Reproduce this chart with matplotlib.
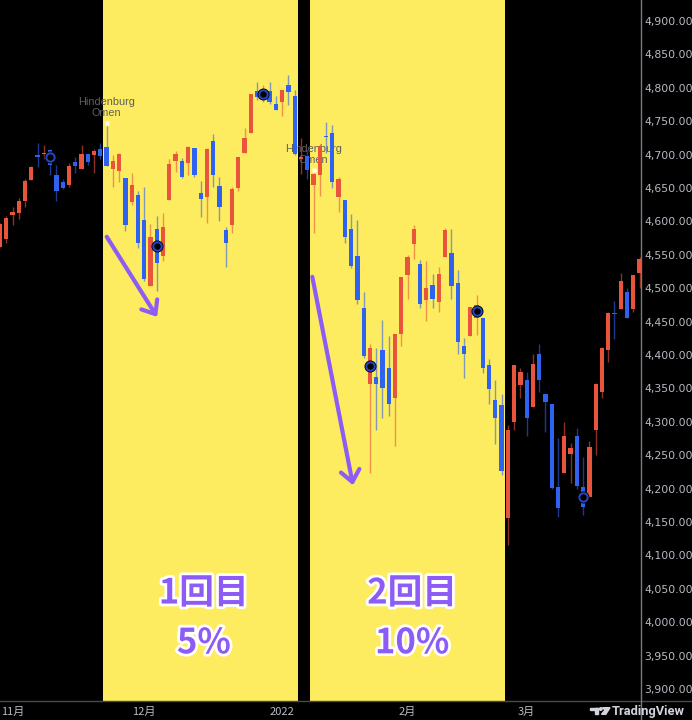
import numpy as np
import pandas as pd
import matplotlib
matplotlib.use("Agg")
import matplotlib.pyplot as plt
import matplotlib.patheffects as pe
from matplotlib.patches import Rectangle, Circle, Polygon
from matplotlib.lines import Line2D
from matplotlib.transforms import offset_copy

plt.rcParams['font.family'] = ['Noto Sans CJK JP', 'DejaVu Sans']

# S&P500 daily candles, 2021-10-28 .. 2022-03-25
holidays = ["2021-11-25", "2021-12-24", "2022-01-17", "2022-02-21"]
dates = pd.bdate_range("2021-10-28", "2022-03-25", freq="C", holidays=holidays)

opens = [4562, 4573,
         4610, 4613, 4630, 4662, 4699, 4701, 4707, 4670, 4659, 4655, 4689, 4679, 4701, 4700, 4708,
         4712, 4679, 4675, 4665, 4629, 4640,
         4602, 4504, 4589, 4548, 4632, 4690, 4691, 4687, 4710, 4642, 4637, 4720, 4653, 4587, 4594,
         4650, 4703, 4733, 4795, 4788, 4795, 4775,
         4778, 4804, 4787, 4693, 4698, 4655, 4669, 4728, 4733, 4637, 4632, 4589, 4548, 4471, 4357,
         4367, 4408, 4381, 4336, 4432,
         4519, 4566, 4536, 4482, 4505, 4480, 4547, 4553, 4507, 4413, 4429, 4456, 4456, 4385, 4333,
         4325, 4156, 4299, 4355,
         4363, 4322, 4401, 4342, 4327, 4202, 4223, 4252, 4279, 4202, 4188, 4288, 4345, 4407, 4462,
         4469, 4494, 4469, 4523]
highs = [4597, 4608,
         4621, 4635, 4663, 4683, 4718, 4714, 4708, 4684, 4664, 4688, 4697, 4714, 4701, 4708, 4717,
         4743, 4699, 4702, 4665, 4672, 4646,
         4652, 4596, 4608, 4612, 4694, 4705, 4695, 4713, 4710, 4660, 4710, 4731, 4666, 4592, 4651,
         4697, 4740, 4791, 4808, 4804, 4808, 4787,
         4797, 4819, 4797, 4725, 4707, 4673, 4714, 4749, 4745, 4666, 4632, 4611, 4602, 4495, 4417,
         4411, 4453, 4428, 4432, 4516,
         4550, 4595, 4542, 4540, 4521, 4531, 4590, 4588, 4527, 4426, 4472, 4490, 4456, 4394, 4362,
         4341, 4295, 4385, 4380,
         4375, 4401, 4416, 4342, 4327, 4276, 4299, 4268, 4291, 4247, 4271, 4358, 4412, 4465, 4481,
         4522, 4501, 4520, 4546]
lows = [4562, 4567,
        4595, 4604, 4621, 4662, 4681, 4694, 4670, 4630, 4648, 4651, 4672, 4679, 4684, 4672, 4694,
        4683, 4652, 4659, 4586, 4625, 4560,
        4510, 4504, 4496, 4540, 4632, 4674, 4665, 4670, 4667, 4606, 4598, 4651, 4600, 4532, 4583,
        4645, 4703, 4733, 4781, 4778, 4775, 4766,
        4758, 4774, 4700, 4671, 4663, 4582, 4638, 4703, 4650, 4614, 4568, 4530, 4477, 4395, 4223,
        4287, 4305, 4309, 4264, 4414,
        4484, 4544, 4470, 4451, 4471, 4464, 4547, 4484, 4401, 4365, 4429, 4430, 4373, 4327, 4267,
        4221, 4115, 4287, 4335,
        4279, 4322, 4345, 4284, 4199, 4157, 4223, 4209, 4200, 4161, 4187, 4251, 4335, 4390, 4424,
        4469, 4455, 4465, 4501]
closes = [4596, 4605,
          4614, 4631, 4660, 4681, 4697, 4702, 4685, 4646, 4650, 4683, 4683, 4701, 4689, 4705, 4698,
          4683, 4691, 4701, 4595, 4655, 4567,
          4513, 4577, 4538, 4592, 4686, 4701, 4667, 4712, 4669, 4634, 4709, 4669, 4621, 4568, 4649,
          4697, 4725, 4791, 4786, 4793, 4778, 4766,
          4797, 4793, 4701, 4696, 4677, 4671, 4713, 4726, 4659, 4663, 4577, 4533, 4483, 4398, 4410,
          4357, 4350, 4327, 4432, 4516,
          4546, 4589, 4477, 4501, 4484, 4521, 4587, 4504, 4419, 4401, 4472, 4475, 4380, 4349, 4305,
          4226, 4288, 4385, 4374,
          4306, 4387, 4363, 4329, 4201, 4171, 4278, 4260, 4204, 4173, 4262, 4357, 4411, 4463, 4461,
          4511, 4456, 4520, 4543]

shade_ranges = [("2021-11-22", "2022-01-05"), ("2022-01-10", "2022-02-23")]
omen_dates = ["2021-11-22", "2022-01-10"]
signal_dates = ["2021-11-09", "2021-12-03", "2021-12-29", "2022-01-24", "2022-02-16", "2022-03-14"]
xtick_dates = ["2021-11-01", "2021-12-01", "2022-01-03", "2022-02-01", "2022-03-01"]
xtick_labels = ["11月", "12月", "2022", "2月", "3月"]
arrows = [(("2021-11-22", 4577), ("2021-12-03", 4457)),
          (("2022-01-10", 4517), ("2022-01-19", 4205))]
arrow_dx = [(0.02, 0.06), (-0.19, 0.3)]
labels_top = ["1回目", "2回目"]
labels_pct = ["5%", "10%"]

UP = "#e9543d"
DOWN = "#2e62f0"
YELLOW = "#fdeb60"
PURPLE = "#8d5cf6"

o = np.array(opens, float)
h = np.array(highs, float)
l = np.array(lows, float)
c = np.array(closes, float)
x = np.arange(len(dates))
pos = {d.strftime("%Y-%m-%d"): i for i, d in enumerate(dates)}

fig = plt.figure(figsize=(6.92, 7.2), dpi=100, facecolor="black")
ax = fig.add_axes([0, 19 / 720, 641 / 692, 701 / 720])
ax.set_facecolor("black")

for a, b in shade_ranges:
    ax.axvspan(pos[a] - 0.5, pos[b] + 0.5, color=YELLOW, lw=0, zorder=0)

up = c >= o
cols = np.where(up, UP, DOWN)
wick_cols = [matplotlib.colors.to_rgba(cc, 0.6) for cc in cols]
ax.vlines(x, l, h, colors=wick_cols, linewidth=1.0, zorder=3)
ax.bar(x, np.maximum(np.abs(c - o), 1.4), bottom=np.minimum(o, c), width=0.68,
       color=cols, linewidth=0, zorder=4)

# Hindenburg Omen marks
dot_tr = offset_copy(ax.transData, fig=fig, x=0, y=3, units="dots")
for d in omen_dates:
    i = pos[d]
    ax.annotate("Hindenburg", xy=(i, h[i]), xytext=(0, 24), textcoords="offset pixels",
                ha="center", va="center", fontsize=7.8, color="#5e5e5e",
                family="Liberation Sans", zorder=2)
    ax.annotate("Omen", xy=(i, h[i]), xytext=(0, 13), textcoords="offset pixels",
                ha="center", va="center", fontsize=7.8, color="#5e5e5e",
                family="Liberation Sans", zorder=2)
    ax.plot([i], [h[i]], marker="s", ms=2.2, color="white", mec="none",
            transform=dot_tr, zorder=5)

# signal circles at body middle
si = np.array([pos[d] for d in signal_dates])
mid = (o[si] + c[si]) / 2
ax.scatter(si, mid, s=75, color="black", linewidths=0, zorder=6)
ax.scatter(si, mid, s=36, facecolor="black", edgecolor="#2546c4", linewidths=1.4, zorder=7)

# arrows
for ((d0, p0), (d1, p1)), (dx0, dx1) in zip(arrows, arrow_dx):
    ax.annotate("", xy=(pos[d1] + dx1, p1), xytext=(pos[d0] + dx0, p0),
                arrowprops=dict(arrowstyle="->,head_length=0.55,head_width=0.45",
                                color=PURPLE, lw=3.0, shrinkA=0, shrinkB=0,
                                mutation_scale=15, capstyle="round", joinstyle="round"),
                zorder=8)

# big labels
for k, (t1, t2) in enumerate(zip(labels_top, labels_pct)):
    xc = 0.318 + k * 0.325
    for txt, yy in ((t1, 0.154), (t2, 0.083)):
        ax.text(xc, yy, txt, transform=ax.transAxes, ha="center", va="center",
                fontsize=25, fontweight="bold", color=PURPLE, zorder=9,
                path_effects=[pe.withStroke(linewidth=4, foreground="white")])

ax.set_xlim(0, 641 / 6.27)
ax.set_ylim(3882, 4931.4)

yt = np.arange(3900, 4901, 50)
ax.yaxis.tick_right()
ax.set_yticks(yt, [f"{v:,.2f}" for v in yt])
for lbl in ax.get_yticklabels():
    lbl.set_fontfamily("DejaVu Sans")
ax.tick_params(axis="y", length=0, pad=2.5, labelsize=7.8, labelcolor="#b8bbc3")

ax.set_xticks([pos[d] for d in xtick_dates], xtick_labels)
ax.tick_params(axis="x", length=0, pad=4, labelsize=8, labelcolor="#b8bbc3")

for s in ("top", "left", "bottom"):
    ax.spines[s].set_visible(False)
ax.spines["right"].set_color("#787b86")
ax.spines["right"].set_linewidth(1.0)

fig.add_artist(Line2D([0, 1], [19 / 720, 19 / 720], color="#4a4a4a", lw=1.0))
fig.add_artist(Line2D([641 / 692, 641 / 692], [0, 19 / 720], color="#787b86", lw=1.0))

# TradingView logo
logo_col = "#d1d4dc"
fig.patches.append(Rectangle((590, 720 - 710), 8.3, 2.3, color=logo_col, transform=None))
fig.patches.append(Rectangle((595, 720 - 714.3), 3.3, 6.6, color=logo_col, transform=None))
fig.patches.append(Circle((600.8, 720 - 709), 1.3, color=logo_col, transform=None))
fig.patches.append(Polygon([(602.5, 720 - 707.7), (610, 720 - 707.7), (605.8, 720 - 714.3),
                            (601.5, 720 - 714.3), (605, 720 - 710)], closed=True,
                           color=logo_col, transform=None))
fig.text(612 / 692, 1 - 711.5 / 720, "TradingView", fontsize=9.3, fontweight="bold",
         color=logo_col, family="Roboto", ha="left", va="center")

fig.savefig("out.png", dpi=100, facecolor="black")
